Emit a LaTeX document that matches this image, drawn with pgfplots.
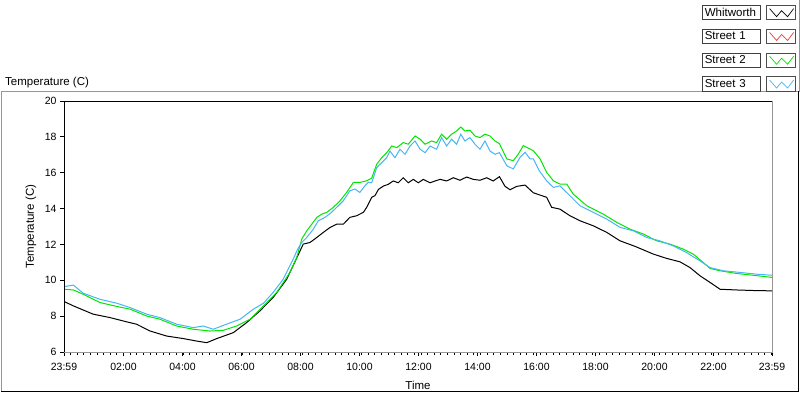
\documentclass[border=0pt]{standalone}
\usepackage{fontspec}
\setmainfont{Liberation Sans}
\usepackage{pgfplots}
\usepackage{pgfplotstable}
\pgfplotsset{compat=1.18}
\definecolor{lvgreen}{RGB}{0,230,0}
\definecolor{lvblue}{RGB}{70,180,245}
\definecolor{lvred}{RGB}{240,60,60}
\definecolor{framegray}{RGB}{150,150,150}

\pgfplotstableread{
h T
0 8.82
0.32 8.57
0.99 8.11
1.56 7.92
2.13 7.68
2.46 7.55
2.92 7.17
3.48 6.89
4.04 6.75
4.50 6.61
4.84 6.52
5.18 6.75
5.74 7.08
6.19 7.64
6.64 8.29
7.09 9.04
7.55 10.06
7.89 11.25
8.11 12.02
8.34 12.11
8.57 12.39
8.79 12.67
9.02 12.95
9.24 13.13
9.47 13.13
9.69 13.51
9.92 13.60
10.15 13.79
10.26 14.07
10.43 14.63
10.54 14.72
10.66 15.07
10.83 15.26
10.99 15.35
11.16 15.54
11.33 15.44
11.50 15.72
11.67 15.44
11.84 15.63
12.01 15.44
12.18 15.63
12.41 15.44
12.58 15.54
12.75 15.63
12.97 15.54
13.20 15.72
13.42 15.58
13.65 15.76
13.87 15.63
14.10 15.58
14.33 15.72
14.55 15.54
14.76 15.78
14.95 15.24
15.12 15.05
15.35 15.24
15.63 15.31
15.91 14.88
16.36 14.63
16.53 14.07
16.81 13.97
17.15 13.60
17.49 13.32
17.94 13.04
18.40 12.67
18.85 12.20
19.36 11.89
19.98 11.46
20.43 11.22
20.88 11.03
21.22 10.71
21.56 10.25
21.90 9.88
22.24 9.50
22.80 9.46
23.37 9.43
24 9.41
}\whitworth

\pgfplotstableread{
h T
0 9.50
0.32 9.46
0.65 9.22
1.22 8.76
1.79 8.54
2.24 8.39
2.80 8.01
3.25 7.83
3.82 7.45
4.38 7.27
4.95 7.17
5.40 7.21
5.85 7.45
6.31 7.83
6.76 8.57
7.21 9.32
7.66 10.44
7.89 11.27
8.06 12.30
8.23 12.76
8.40 13.13
8.57 13.51
8.74 13.69
8.91 13.79
9.13 14.07
9.36 14.44
9.58 14.90
9.81 15.46
10.03 15.46
10.26 15.55
10.43 15.70
10.60 16.47
10.77 16.84
10.94 17.12
11.11 17.49
11.28 17.40
11.50 17.68
11.67 17.59
11.90 18.05
12.07 17.87
12.24 17.59
12.46 17.77
12.63 17.68
12.80 18.15
12.97 17.87
13.14 18.15
13.31 18.33
13.45 18.55
13.59 18.33
13.76 18.37
13.93 18.05
14.10 17.96
14.27 18.15
14.44 18.05
14.61 17.77
14.76 17.62
15.01 16.77
15.23 16.67
15.40 17.04
15.57 17.51
15.80 17.32
15.91 17.23
16.14 16.77
16.36 16.02
16.59 15.55
16.81 15.37
17.04 15.37
17.26 14.81
17.72 14.16
18.28 13.69
18.74 13.23
19.19 12.85
19.64 12.58
20.09 12.20
20.54 12.02
20.99 11.74
21.33 11.46
21.67 10.99
21.90 10.66
22.24 10.53
22.80 10.38
23.37 10.28
24 10.16
}\streettwo

\pgfplotstableread{
h T
0 9.65
0.32 9.73
0.65 9.28
1.22 8.94
1.79 8.72
2.24 8.48
2.80 8.11
3.25 7.92
3.82 7.55
4.38 7.36
4.72 7.45
5.06 7.27
5.51 7.55
5.97 7.83
6.42 8.39
6.76 8.72
7.09 9.32
7.43 10.06
7.77 11.18
7.92 11.74
8.06 12.11
8.23 12.39
8.45 12.85
8.62 13.32
8.85 13.51
9.07 13.79
9.30 14.16
9.47 14.44
9.69 14.99
9.86 15.09
10.03 14.90
10.20 15.27
10.31 15.46
10.43 15.44
10.60 16.28
10.77 16.56
10.94 16.84
11.05 17.21
11.22 16.84
11.39 17.31
11.56 17.03
11.73 17.49
11.90 17.77
12.07 17.31
12.24 17.12
12.41 17.49
12.63 17.31
12.80 17.96
12.97 17.49
13.14 17.87
13.31 17.59
13.45 18.15
13.59 17.77
13.76 17.96
13.93 17.59
14.10 17.31
14.27 17.77
14.44 17.21
14.61 17.03
14.76 17.12
15.01 16.39
15.23 16.21
15.46 16.86
15.63 17.14
15.80 16.77
15.91 16.77
16.11 16.11
16.36 15.55
16.59 15.18
16.81 15.27
17.15 14.72
17.49 14.16
17.94 13.79
18.40 13.41
18.85 12.95
19.30 12.76
19.75 12.39
20.20 12.20
20.65 11.92
21.10 11.55
21.56 11.08
21.90 10.71
22.35 10.53
22.91 10.44
23.48 10.34
24 10.28
}\streetthree

\begin{document}
\begin{tikzpicture}[x=1pt,y=1pt]
\path[use as bounding box] (0,0) rectangle (800,392);
% outer frame
\draw[framegray, line width=1pt] (1,1) -- (1,301) -- (799,301) -- (799,392);
\draw[black, line width=1pt] (1,1) -- (798,1) -- (798,301);
\node[anchor=base west, font=\fontsize{11.5}{13}\selectfont, inner sep=0pt] at (5,307) {Temperature (C)};
\begin{axis}[
  at={(64pt,40pt)}, anchor=south west,
  scale only axis, width=708pt, height=251pt,
  xmin=0, xmax=24, ymin=6, ymax=20,
  axis line style={framegray, line width=1pt},
  xtick={0,2.0167,4.0167,6.0167,8.0167,10.0167,12.0167,14.0167,16.0167,18.0167,20.0167,22.0167,24},
  xticklabels={23:59,02:00,04:00,06:00,08:00,10:00,12:00,14:00,16:00,18:00,20:00,22:00,23:59},
  minor xtick={0.22407,0.44815,...,24},
  ytick={6,8,...,20},
  tick align=outside,
  xtick pos=bottom, ytick pos=left,
  major tick length=4pt, minor tick length=2.5pt,
  tick style={black, line width=0.8pt},
  minor tick style={black, line width=0.8pt},
  tick label style={font=\fontsize{10.5}{12}\selectfont},
  xticklabel style={yshift=-4pt},
  /pgf/number format/assume math mode=true,
  ylabel={Temperature (C)},
  every axis y label/.style={at={(axis description cs:-0.0466,0.5)}, rotate=90, anchor=center, font=\fontsize{11.5}{13}\selectfont},
  xlabel={Time},
  every axis x label/.style={at={(axis description cs:0.5,-0.1474)}, anchor=base, font=\fontsize{11.5}{13}\selectfont},
  legend plot pos=right,
  legend cell align=left,
  legend image code/.code={
    \draw[black!70, fill=white, solid, line width=0.8pt] (0pt,-7.25pt) rectangle (29pt,7.25pt);
    \draw[#1, line width=0.7pt] (3pt,4pt) -- (10pt,-4pt) -- (15pt,2pt) -- (21pt,-4pt) -- (27pt,4pt);
  },
  legend style={
    at={(axis description cs:1.0339,1.3825)}, anchor=north east,
    draw=none, fill=none, inner sep=0pt, outer sep=0pt,
    row sep=8.5pt, column sep=5pt,
    font=\fontsize{11.5}{13}\selectfont,
    nodes={draw=black!75, line width=0.8pt, fill=white, text width=54pt, align=left, minimum height=14.5pt, inner sep=2pt},
  },
  clip=true,
]
\addplot[black, line width=1pt] table[x=h,y=T] {\whitworth};
\addlegendentry{Whitworth}
\addlegendimage{lvred, line width=1pt}
\addlegendentry{Street 1}
\addplot[lvgreen, line width=1pt] table[x=h,y=T] {\streettwo};
\addlegendentry{Street 2}
\addplot[lvblue, line width=1pt] table[x=h,y=T] {\streetthree};
\addlegendentry{Street 3}
\draw[black, line width=1pt] (rel axis cs:0,0) -- (rel axis cs:0,1) -- (rel axis cs:1,1);
\end{axis}
\end{tikzpicture}
\end{document}
